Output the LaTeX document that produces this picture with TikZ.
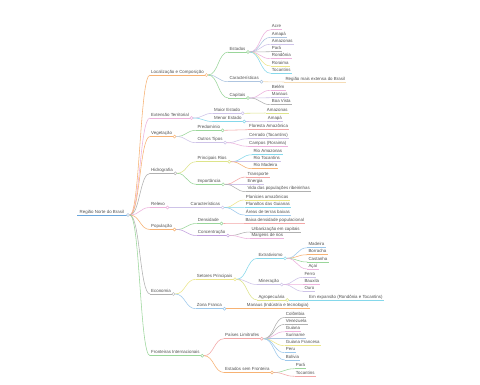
\documentclass[tikz,border=0pt]{standalone}
\usepackage{fontspec}
\setmainfont{Liberation Sans}
\usetikzlibrary{calc}
\definecolor{txt}{HTML}{505050}
\definecolor{cblue}{HTML}{6AA6DC}
\definecolor{corange}{HTML}{F7B273}
\definecolor{cpink}{HTML}{EDB2DD}
\definecolor{cgray}{HTML}{B0B0B0}
\definecolor{cgreen}{HTML}{9AD69A}
\definecolor{cbluegray}{HTML}{AEC5E0}
\definecolor{clav}{HTML}{CEC3E8}
\definecolor{ccyan}{HTML}{85D8EB}
\definecolor{cyg}{HTML}{DDE48A}
\definecolor{cpurple}{HTML}{C2A0DF}
\definecolor{cyellow}{HTML}{ECE68A}
\definecolor{cred}{HTML}{F3A6A6}
\definecolor{cbeige}{HTML}{F5DCB6}
\definecolor{clblue}{HTML}{9CC8EC}
\newcommand\mmfont{\fontsize{4.4}{5}\selectfont}
\tikzset{
  mmt/.style={inner xsep=1pt, inner ysep=0.8pt, text height=3.3pt, text depth=0.9pt, font=\mmfont, text=txt},
  mml/.style={line width=0.55pt},
  mmd/.style={circle, fill=white, line width=0.5pt, inner sep=0pt, minimum size=3pt},
}
% name, x, y, color, text
\newcommand\MN[5]{%
  \node[mmt, anchor=south west] (#1) at (#2,#3) {#5};
  \draw[mml, #4] (#1.south west) -- (#1.south east);}
% dot: name, color
\newcommand\MD[2]{\node[mmd, draw=#2] (#1o) at ([xshift=1.4pt]#1.south east) {};}
% edge: parent, child, color
\newcommand\ME[3]{%
  \draw[mml, #3] let \p1=(#1o.east), \p2=(#2.south west) in
    (\p1) .. controls ({0.5*\x1+0.5*\x2},\y1) and ({0.5*\x1+0.5*\x2},\y2) .. (\p2);}
\begin{document}
\begin{tikzpicture}[x=1pt,y=-1pt]
\useasboundingbox[fill=white] (0,0) rectangle (480,384);
% root
\node[mmt, anchor=south west, inner xsep=2.5pt] (r) at (77,215) {Região Norte do Brasil};
\draw[mml, cblue] (r.south west) -- (r.south east);
% level 1
\MN{loc}{150}{75}{corange}{Localização e Composição}
\MN{ext}{150}{118}{cpink}{Extensão Territorial}
\MN{veg}{150}{136.5}{corange}{Vegetação}
\MN{hid}{150}{173.3}{cgray}{Hidrografia}
\MN{rel}{150}{207.5}{cpink}{Relevo}
\MN{pop}{150}{229.5}{corange}{População}
\MN{eco}{150}{294}{cgray}{Economia}
\MN{fro}{150}{355.7}{cgreen}{Fronteiras Internacionais}
% level 2
\MN{est}{228.3}{52}{cgreen}{Estados}
\MN{car}{228.3}{81.7}{cbluegray}{Características}
\MN{cap}{228.3}{98}{cgreen}{Capitais}
\MN{mai}{213}{113.3}{clav}{Maior Estado}
\MN{men}{213}{121.5}{ccyan}{Menor Estado}
\MN{pre}{196.3}{130.3}{cgreen}{Predomínio}
\MN{out}{196.3}{142.7}{clav}{Outros Tipos}
\MN{rio}{196.3}{161.7}{cyg}{Principais Rios}
\MN{imp}{196.3}{184.3}{cgreen}{Importância}
\MN{cartwo}{189.5}{207.5}{clav}{Características}
\MN{den}{196.7}{223.5}{cgreen}{Densidade}
\MN{con}{196.7}{235.5}{cpurple}{Concentração}
\MN{set}{195.7}{279.3}{cyellow}{Setores Principais}
\MN{zon}{195.7}{308.7}{clblue}{Zona Franca}
\MN{pai}{224}{338.7}{cred}{Países Limítrofes}
\MN{esf}{224}{372.5}{corange}{Estados sem Fronteira}
% level 3
\MN{acre}{270.7}{29.7}{cpink}{Acre}
\MN{amapa}{270.7}{37.3}{cbluegray}{Amapá}
\MN{amaz}{270.7}{44.3}{clav}{Amazonas}
\MN{para}{270.7}{51.7}{cgray}{Pará}
\MN{rond}{270.7}{58.7}{cpink}{Rondônia}
\MN{rora}{270.7}{66}{cyellow}{Roraima}
\MN{toca}{270.7}{73.3}{ccyan}{Tocantins}
\MN{regi}{284.3}{82}{cbeige}{Região mais extensa do Brasil}
\MN{bele}{270.7}{90.3}{cpink}{Belém}
\MN{mana}{270.7}{97.7}{clav}{Manaus}
\MN{boav}{270.7}{104.7}{cgray}{Boa Vista}
\MN{maiv}{265.7}{113}{cyg}{Amazonas}
\MN{menv}{266.7}{121.3}{clav}{Amapá}
\MN{flor}{248}{129.7}{cred}{Floresta Amazônica}
\MN{cerr}{248}{138.7}{clav}{Cerrado (Tocantins)}
\MN{camp}{248}{146.3}{cpink}{Campos (Roraima)}
\MN{ramz}{252.3}{154.7}{ccyan}{Rio Amazonas}
\MN{rtoc}{252.3}{161.7}{clav}{Rio Tocantins}
\MN{rmad}{252.3}{168.7}{corange}{Rio Madeira}
\MN{tran}{246.3}{177}{cred}{Transporte}
\MN{ener}{246.3}{184.3}{clav}{Energia}
\MN{vida}{246.3}{191.7}{cgray}{Vida das populações ribeirinhas}
\MN{plan}{244.7}{200}{cyellow}{Planícies amazônicas}
\MN{plal}{244.7}{207.7}{ccyan}{Planaltos das Guianas}
\MN{area}{244.7}{215}{clblue}{Áreas de terras baixas}
\MN{baix}{244.3}{223.7}{cred}{Baixa densidade populacional}
\MN{urba}{250.3}{232}{cgray}{Urbanização em capitais}
\MN{marg}{250.3}{238.7}{cpink}{Margens de rios}
\MN{extr}{257.3}{258.3}{ccyan}{Extrativismo}
\MN{mine}{257.3}{284.5}{clav}{Mineração}
\MN{agro}{257.3}{300}{cyg}{Agropecuária}
\MN{mind}{245.7}{308.7}{corange}{Manaus (Indústria e tecnologia)}
\MN{colo}{284.7}{317.3}{cgray}{Colômbia}
\MN{vene}{284.7}{324.3}{cgray}{Venezuela}
\MN{guia}{284.7}{331.7}{cpink}{Guiana}
\MN{suri}{284.7}{338.7}{cbluegray}{Suriname}
\MN{guif}{284.7}{345.7}{cyellow}{Guiana Francesa}
\MN{peru}{284.7}{352.7}{clblue}{Peru}
\MN{boli}{284.7}{360}{clblue}{Bolívia}
\MN{parb}{294.7}{368.7}{cgreen}{Pará}
\MN{tocb}{294.7}{376.3}{cred}{Tocantins}
% level 4
\MN{made}{307.3}{247.7}{clblue}{Madeira}
\MN{borr}{307.3}{254.7}{corange}{Borracha}
\MN{cast}{307.3}{262}{cgreen}{Castanha}
\MN{acai}{307.3}{269}{cpink}{Açaí}
\MN{ferr}{303.3}{277.3}{clav}{Ferro}
\MN{baux}{303.3}{284.3}{cpink}{Bauxita}
\MN{ouro}{303.3}{291.3}{clav}{Ouro}
\MN{expa}{308}{300}{ccyan}{Em expansão (Rondônia e Tocantins)}
% dots
\MD{r}{cbluegray}
\MD{loc}{corange}\MD{ext}{cpink}\MD{veg}{corange}\MD{hid}{cgray}
\MD{rel}{cpink}\MD{pop}{corange}\MD{eco}{cgray}\MD{fro}{cgreen}
\MD{est}{cgreen}\MD{car}{cbluegray}\MD{cap}{cgreen}\MD{mai}{clav}\MD{men}{ccyan}
\MD{pre}{cgreen}\MD{out}{clav}\MD{rio}{cyg}\MD{imp}{cgreen}\MD{cartwo}{clav}
\MD{den}{cgreen}\MD{con}{cpurple}\MD{set}{cyellow}\MD{zon}{clblue}
\MD{pai}{cred}\MD{esf}{corange}
\MD{extr}{ccyan}\MD{mine}{clav}\MD{agro}{cyg}
% edges
\ME{r}{loc}{corange}\ME{r}{ext}{cpink}\ME{r}{veg}{corange}\ME{r}{hid}{cgray}
\ME{r}{rel}{cpink}\ME{r}{pop}{corange}\ME{r}{eco}{cgray}\ME{r}{fro}{cgreen}
\ME{loc}{est}{cgreen}\ME{loc}{car}{cbluegray}\ME{loc}{cap}{cgreen}
\ME{ext}{mai}{clav}\ME{ext}{men}{ccyan}
\ME{veg}{pre}{cgreen}\ME{veg}{out}{clav}
\ME{hid}{rio}{cyg}\ME{hid}{imp}{cgreen}
\ME{rel}{cartwo}{clav}
\ME{pop}{den}{cgreen}\ME{pop}{con}{cpurple}
\ME{eco}{set}{cyellow}\ME{eco}{zon}{clblue}
\ME{fro}{pai}{cred}\ME{fro}{esf}{corange}
\ME{est}{acre}{cpink}\ME{est}{amapa}{cbluegray}\ME{est}{amaz}{clav}\ME{est}{para}{cgray}
\ME{est}{rond}{cpink}\ME{est}{rora}{cyellow}\ME{est}{toca}{ccyan}
\ME{car}{regi}{cbeige}
\ME{cap}{bele}{cpink}\ME{cap}{mana}{clav}\ME{cap}{boav}{cgray}
\ME{mai}{maiv}{cyg}\ME{men}{menv}{clav}
\ME{pre}{flor}{cred}\ME{out}{cerr}{clav}\ME{out}{camp}{cpink}
\ME{rio}{ramz}{ccyan}\ME{rio}{rtoc}{clav}\ME{rio}{rmad}{corange}
\ME{imp}{tran}{cred}\ME{imp}{ener}{clav}\ME{imp}{vida}{cgray}
\ME{cartwo}{plan}{cyellow}\ME{cartwo}{plal}{ccyan}\ME{cartwo}{area}{clblue}
\ME{den}{baix}{cred}\ME{con}{urba}{cgray}\ME{con}{marg}{cpink}
\ME{set}{extr}{ccyan}\ME{set}{mine}{clav}\ME{set}{agro}{cyg}
\ME{zon}{mind}{corange}
\ME{pai}{colo}{cgray}\ME{pai}{vene}{cgray}\ME{pai}{guia}{cpink}\ME{pai}{suri}{cbluegray}
\ME{pai}{guif}{cyellow}\ME{pai}{peru}{clblue}\ME{pai}{boli}{clblue}
\ME{esf}{parb}{cgreen}\ME{esf}{tocb}{cred}
\ME{extr}{made}{clblue}\ME{extr}{borr}{corange}\ME{extr}{cast}{cgreen}\ME{extr}{acai}{cpink}
\ME{mine}{ferr}{clav}\ME{mine}{baux}{cpink}\ME{mine}{ouro}{clav}
\ME{agro}{expa}{ccyan}
\end{tikzpicture}
\end{document}
